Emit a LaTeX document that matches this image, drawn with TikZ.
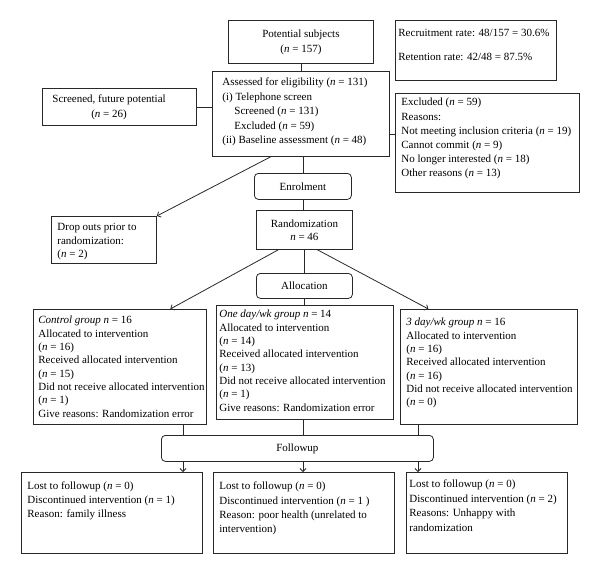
\documentclass[tikz,border=0pt]{standalone}
\usepackage{fontspec}
\setmainfont{Liberation Serif}
\usetikzlibrary{arrows.meta,calc}
\definecolor{linec}{RGB}{40,40,40}
\newcommand{\nn}{\textit{n}}
% width, height, left pad, first baseline offset, baselineskip, content
\newcommand{\tbx}[6]{\parbox[c][#2][t]{#1}{\fontsize{11pt}{#5}\selectfont\raggedright\leftskip=#3\relax\vspace*{\dimexpr#4-\ht\strutbox\relax}\strut #6\par}}
\tikzset{
  box/.style={draw=linec, line width=0.8pt, inner sep=0pt, anchor=north west},
  rbox/.style={draw=linec, line width=0.8pt, rounded corners=4pt, anchor=north west, inner sep=0pt, align=center, font=\fontsize{11pt}{13pt}\selectfont},
  conn/.style={draw=linec, line width=0.8pt},
  arr/.style={conn, -{Straight Barb[length=3pt,width=6pt]}}
}
\begin{document}
\begin{tikzpicture}[x=1pt,y=-1pt]
\useasboundingbox (0,0) rectangle (600,574);
% top
\node[box] (pot) at (228,20) {\parbox[c][43pt][c]{145pt}{\centering\fontsize{11pt}{15pt}\selectfont Potential subjects\\(\nn{} = 157)}};
\node[box] (rec) at (395,20) {\tbx{161pt}{60pt}{3pt}{16.5pt}{13.3pt}{Recruitment rate: 48/157 = 30.6\%\\[10.7pt]Retention rate: 42/48 = 87.5\%}};
\node[box] (ass) at (212,71) {\tbx{177pt}{85pt}{10pt}{14.5pt}{14.5pt}{Assessed for eligibility (\nn{} = 131)\\(i) Telephone screen\\\hspace*{12pt}Screened (\nn{} = 131)\\\hspace*{12pt}Excluded (\nn{} = 59)\\(ii) Baseline assessment (\nn{} = 48)}};
\node[box] (scr) at (42,88) {\parbox[c][37pt][c]{154pt}{\fontsize{11pt}{15pt}\selectfont\hspace*{10pt}\begin{tabular}{@{}c@{}}Screened, future potential\\(\nn{} = 26)\end{tabular}}};
\node[box] (exc) at (395,93) {\tbx{184pt}{99pt}{6pt}{12.5pt}{14.2pt}{Excluded (\nn{} = 59)\\Reasons:\\Not meeting inclusion criteria (\nn{} = 19)\\Cannot commit (\nn{} = 9)\\No longer interested (\nn{} = 18)\\Other reasons (\nn{} = 13)}};
\node[rbox, minimum width=97pt, minimum height=26pt] (enr) at (254,173) {Enrolment};
\node[box] (drop) at (51,216) {\tbx{105pt}{47pt}{6pt}{14.5pt}{13.5pt}{Drop outs prior to\\randomization:\\(\nn{} = 2)}};
\node[box] (rand) at (256,210) {\parbox[c][39pt][c]{96pt}{\centering\fontsize{11pt}{13pt}\selectfont Randomization\\\nn{} = 46}};
\node[rbox, minimum width=96pt, minimum height=25pt] (alloc) at (256,273) {Allocation};
% groups
\node[box] (ctrl) at (33,309) {\tbx{173pt}{115pt}{5pt}{14.5pt}{13.3pt}{\textit{Control group n} = 16\\Allocated to intervention\\(\nn{} = 16)\\Received allocated intervention\\(\nn{} = 15)\\Did not receive allocated intervention\\(\nn{} = 1)\\Give reasons: Randomization error}};
\node[box] (one) at (216,305) {\tbx{177pt}{114pt}{3pt}{12.5pt}{13.3pt}{\textit{One day/wk group n} = 14\\Allocated to intervention\\(\nn{} = 14)\\Received allocated intervention\\(\nn{} = 13)\\Did not receive allocated intervention\\(\nn{} = 1)\\Give reasons: Randomization error}};
\node[box] (three) at (400,309) {\tbx{177pt}{115pt}{6pt}{16.5pt}{13.3pt}{\textit{3 day/wk group n} = 16\\Allocated to intervention\\(\nn{} = 16)\\Received allocated intervention\\(\nn{} = 16)\\Did not receive allocated intervention\\(\nn{} = 0)}};
\node[rbox, minimum width=272pt, minimum height=26pt] (fol) at (161,435) {Followup};
% bottom
\node[box] (b1) at (21,472) {\tbx{181pt}{81pt}{6pt}{17.5pt}{14pt}{Lost to followup (\nn{} = 0)\\Discontinued intervention (\nn{} = 1)\\Reason: family illness}};
\node[box] (b2) at (213,472) {\tbx{181pt}{81pt}{6pt}{17.5pt}{14.3pt}{Lost to followup (\nn{} = 0)\\Discontinued intervention (\nn{} = 1 )\\Reason: poor health (unrelated to\\intervention)}};
\node[box] (b3) at (406,472) {\tbx{161pt}{81pt}{3pt}{15.5pt}{14.5pt}{Lost to followup (\nn{} = 0)\\Discontinued intervention (\nn{} = 2)\\Reasons: Unhappy with\\randomization}};
% connectors
\draw[conn] (pot.south) -- (pot.south |- ass.north);
\draw[conn] (scr.east) -- (scr.east -| ass.west);
\draw[conn] ([yshift=8.5pt]exc.west) -- ([yshift=8.5pt]exc.west -| ass.east);
\draw[conn] (enr.north |- ass.south) -- (enr.north);
\draw[arr] ($(ass.south west)!0.33!(ass.south east)$) -- (drop.north east);
\draw[conn] (enr.south) -- (enr.south |- rand.north);
\draw[conn] (rand.south) -- (alloc.north);
\draw[conn] (alloc.south) -- (alloc.south |- one.north);
\draw[arr] ($(rand.south west)!0.23!(rand.south east)$) -- ($(ctrl.north west)!0.79!(ctrl.north east)$);
\draw[arr] ($(rand.south west)!0.635!(rand.south east)$) -- ($(three.north west)!0.16!(three.north east)$);
\coordinate (x1) at (183,0);
\coordinate (x2) at (303,0);
\coordinate (x3) at (418,0);
\draw[conn] (ctrl.south -| x1) -- (fol.north -| x1);
\draw[conn] (one.south -| x2) -- (fol.north -| x2);
\draw[conn] (three.south -| x3) -- (fol.north -| x3);
\draw[arr] (fol.south -| x1) -- (b1.north -| x1);
\draw[arr] (fol.south -| x2) -- (b2.north -| x2);
\draw[arr] (fol.south -| x3) -- (b3.north -| x3);
\end{tikzpicture}
\end{document}
